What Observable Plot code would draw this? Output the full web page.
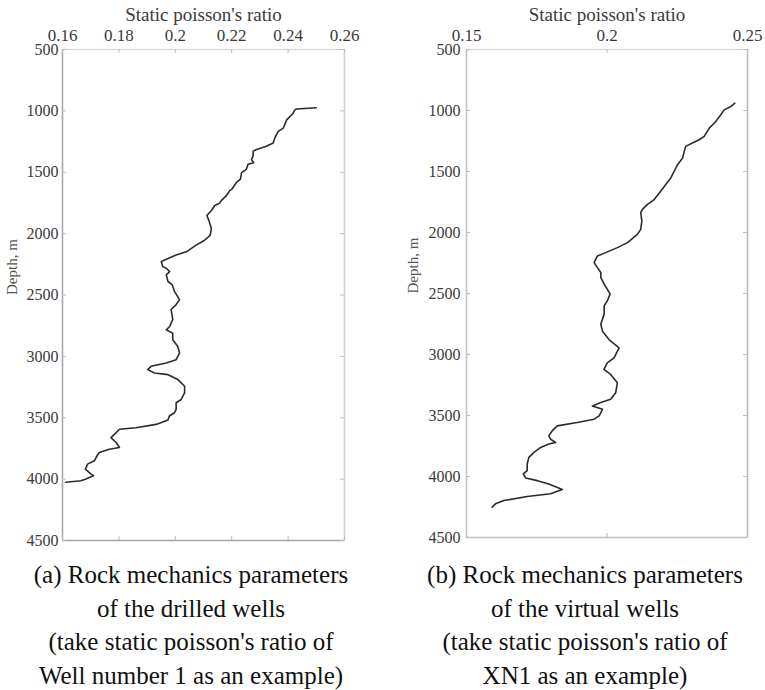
<!DOCTYPE html>
<html><head><meta charset="utf-8">
<script src="https://cdn.jsdelivr.net/npm/d3@7"></script>
<script src="https://cdn.jsdelivr.net/npm/@observablehq/plot@0.6"></script>
<style>
body{margin:0;background:#fff;}
#wrap{position:relative;width:765px;height:690px;overflow:hidden;background:#fff;}
.panel{position:absolute;top:0;}
.cap{position:absolute;top:558px;width:400px;text-align:center;font-family:"Liberation Serif","Times New Roman",Times,"DejaVu Serif",serif;font-size:25px;line-height:33.5px;color:#111;white-space:nowrap;}
</style></head><body><div id="wrap"></div>
<script>
// Panel (a): drilled well No. 1
const depthA = [975,985,992,1019,1073,1140,1167,1220,1261,1288,1314,1328,1368,1395,1422,1435,1476,1503,1556,1583,1637,1650,1691,1731,1753,1771,1812,1852,1892,1960,2013,2054,2094,2148,2175,2215,2228,2269,2282,2309,2336,2390,2417,2470,2538,2578,2618,2699,2757,2784,2811,2865,2919,2973,3027,3054,3081,3108,3135,3149,3189,3243,3297,3351,3378,3432,3459,3486,3518,3554,3581,3594,3635,3662,3702,3742,3756,3783,3824,3851,3878,3918,3959,3972,3999,4013,4026];
const ratioA = [0.2500,0.2430,0.2424,0.2418,0.2395,0.2383,0.2365,0.2353,0.2347,0.2323,0.2288,0.2276,0.2276,0.2270,0.2278,0.2258,0.2252,0.2235,0.2231,0.2217,0.2201,0.2193,0.2181,0.2163,0.2157,0.2140,0.2128,0.2112,0.2119,0.2128,0.2124,0.2104,0.2074,0.2039,0.2003,0.1962,0.1950,0.1956,0.1968,0.1980,0.1968,0.1974,0.1989,0.1997,0.2015,0.2003,0.1985,0.1991,0.1980,0.1968,0.1991,0.1991,0.2009,0.2015,0.2003,0.1968,0.1914,0.1902,0.1926,0.1974,0.2009,0.2033,0.2033,0.2021,0.2003,0.2003,0.1997,0.1979,0.1974,0.1932,0.1860,0.1802,0.1784,0.1772,0.1790,0.1802,0.1766,0.1730,0.1719,0.1713,0.1689,0.1681,0.1701,0.1710,0.1683,0.1665,0.1612];

// Panel (b): virtual well XN1
const depthB = [940,967,995,1035,1090,1144,1212,1240,1267,1294,1335,1389,1444,1498,1553,1607,1661,1730,1770,1811,1838,1906,1974,2015,2083,2124,2165,2192,2247,2288,2328,2369,2424,2464,2505,2560,2600,2669,2750,2810,2878,2946,3027,3068,3122,3163,3231,3313,3367,3394,3422,3449,3503,3530,3558,3585,3626,3666,3694,3721,3734,3762,3802,3843,3898,3952,3979,4012,4034,4061,4107,4142,4164,4197,4224,4251];
const ratioB = [0.2455,0.2441,0.2417,0.2405,0.2387,0.2364,0.2346,0.2328,0.2304,0.2280,0.2275,0.2269,0.2251,0.2239,0.2227,0.2209,0.2191,0.2168,0.2144,0.2126,0.2120,0.2124,0.2120,0.2108,0.2073,0.2037,0.1995,0.1966,0.1954,0.1966,0.1978,0.1978,0.1990,0.2001,0.2011,0.2001,0.1990,0.1990,0.1978,0.1984,0.2007,0.2043,0.2025,0.2001,0.1989,0.2013,0.2037,0.2031,0.2013,0.1978,0.1948,0.1984,0.1972,0.1954,0.1894,0.1823,0.1805,0.1793,0.1799,0.1817,0.1793,0.1764,0.1740,0.1722,0.1716,0.1716,0.1702,0.1710,0.1752,0.1793,0.1841,0.1799,0.1716,0.1633,0.1603,0.1591];

const xTicksA = [0.16,0.18,0.2,0.22,0.24,0.26];
const xTicksB = [0.15,0.2,0.25];
const yTicks = [500,1000,1500,2000,2500,3000,3500,4000,4500];
const yDomain = [500,4500];
const xTitle = "Static poisson's ratio";
const yTitle = "Depth, m";
const captionA = ["(a) Rock mechanics parameters","of the drilled wells","(take static poisson's ratio of","Well number 1 as an example)"];
const captionB = ["(b) Rock mechanics parameters","of the virtual wells","(take static poisson's ratio of","XN1 as an example)"];

const SERIF = '"Liberation Serif", "Times New Roman", Times, "DejaVu Serif", serif';

function panel({depth, ratio, xTicks, W, H, mt, ml, mr, mb, labelDx, padY, edgeLeft, edgeRight}) {
  const data = depth.map((d, i) => ({d, r: ratio[i]}));
  const fh = H - mt - mb, fw = W - ml - mr;
  const xDomain = [xTicks[0], xTicks[xTicks.length - 1]];
  return Plot.plot({
    width: W, height: H, marginTop: mt, marginLeft: ml, marginRight: mr, marginBottom: mb,
    style: {fontFamily: SERIF, background: "transparent", overflow: "visible", color: "#333"},
    x: {domain: xDomain},
    y: {domain: yDomain, reverse: true},
    marks: [
      Plot.frame({stroke: "#d2d2d2", strokeWidth: 1.2}),
      Plot.ruleX([xDomain[0]], {stroke: edgeLeft, strokeWidth: 1.5}),
      Plot.ruleX([xDomain[1]], {stroke: edgeRight, strokeWidth: 1.5}),
      Plot.ruleY([yDomain[1]], {stroke: edgeLeft, strokeWidth: 1.5}),
      Plot.tickX(xTicks, {x: d => d, stroke: "#bdbdbd", insetBottom: fh - 4}),
      Plot.tickX(xTicks, {x: d => d, stroke: "#bdbdbd", insetTop: fh - 4}),
      Plot.tickY(yTicks, {y: d => d, stroke: "#bdbdbd", insetRight: fw - 4}),
      Plot.tickY(yTicks, {y: d => d, stroke: "#bdbdbd", insetLeft: fw - 4}),
      Plot.axisX({anchor: "top", ticks: xTicks, tickSize: 0, tickPadding: 9, fontSize: 17, tickFormat: d => String(d), label: null, fill: "#3a3a3a", fontFamily: SERIF}),
      Plot.axisY({anchor: "left", ticks: yTicks, tickSize: 0, tickPadding: padY, fontSize: 16, tickFormat: d => String(d), label: null, fill: "#3a3a3a", fontFamily: SERIF}),
      Plot.line(data, {x: "r", y: "d", stroke: "#2b2b2b", strokeWidth: 1.6, curve: "linear"}),
      Plot.text([xTitle], {frameAnchor: "top", lineAnchor: "middle", dy: -35, fontSize: 19, text: d => d, fill: "#3a3a3a", fontFamily: SERIF}),
      Plot.text([yTitle], {frameAnchor: "left", dx: labelDx, rotate: -90, fontSize: 15, text: d => d, fill: "#555", fontFamily: SERIF})
    ]
  });
}

const wrap = document.getElementById("wrap");
const pa = panel({depth: depthA, ratio: ratioA, xTicks: xTicksA, W: 383, H: 548, mt: 49, ml: 62, mr: 39, mb: 8, labelDx: -50, padY: 4, edgeLeft: "#a8a8a8", edgeRight: "#d2d2d2"});
pa.classList.add("panel"); pa.style.left = "0px";
wrap.appendChild(pa);
const pb = panel({depth: depthB, ratio: ratioB, xTicks: xTicksB, W: 383, H: 548, mt: 49, ml: 84, mr: 18, mb: 11, labelDx: -53, padY: 6, edgeLeft: "#c4c4c4", edgeRight: "#bcbcbc"});
pb.classList.add("panel"); pb.style.left = "382px";
wrap.appendChild(pb);

function caption(lines, center) {
  const div = document.createElement("div");
  div.className = "cap";
  div.style.left = (center - 200) + "px";
  div.innerHTML = lines.map(s => s.replace(/&/g, "&amp;")).join("<br>");
  wrap.appendChild(div);
}
caption(captionA, 191);
caption(captionB, 585);
</script>
</body></html>
